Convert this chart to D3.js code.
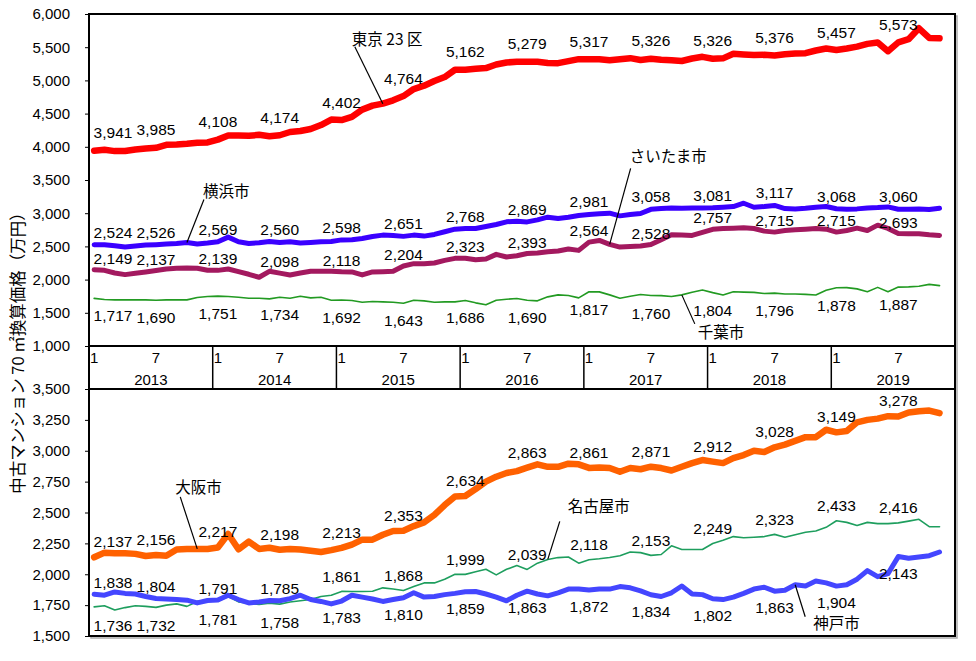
<!DOCTYPE html>
<html><head><meta charset="utf-8">
<script src="https://cdn.jsdelivr.net/npm/d3@7/dist/d3.min.js"></script>
<style>
body{margin:0;background:#fff}
svg{display:block}
</style>
</head><body>
<svg id="chart" width="976" height="661"></svg>
<script>
// ---------------- DATA ----------------
const years = ["2013","2014","2015","2016","2017","2018","2019"];
const monthTickLabels = ["1","7"];
const monthSlots = 84;               // Jan 2013 .. Dec 2019
const labelMonths = [0,6,12,18,24,30,36,42,48,54,60,66,72,78];
const topTicks = [1000,1500,2000,2500,3000,3500,4000,4500,5000,5500,6000];
const bottomTicks = [1500,1750,2000,2250,2500,2750,3000,3250,3500];
const yTitle = "中古マンション 70 ㎡換算価格（万円）";

const tokyo = [3941,3955,3935,3938,3960,3975,3985,4030,4035,4045,4060,4065,
  4108,4170,4170,4165,4180,4160,4174,4223,4238,4268,4328,4410,
  4402,4450,4560,4620,4650,4700,4764,4870,4920,4990,5050,5160,
  5162,5175,5185,5240,5270,5280,5279,5280,5262,5260,5290,5320,
  5317,5320,5305,5320,5335,5307,5326,5310,5305,5292,5330,5355,
  5326,5332,5400,5390,5382,5385,5376,5395,5405,5410,5450,5480,
  5457,5480,5508,5550,5571,5440,5573,5620,5785,5640,5634];
const yokohama = [2524,2525,2510,2490,2505,2520,2526,2535,2545,2560,2535,2550,
  2569,2640,2570,2545,2555,2575,2560,2570,2550,2560,2570,2575,
  2598,2600,2620,2650,2670,2665,2651,2670,2655,2680,2720,2760,
  2768,2770,2800,2830,2870,2880,2869,2900,2940,2920,2940,2965,
  2981,2990,3000,2960,2980,2995,3058,3070,3080,3075,3078,3080,
  3081,3090,3100,3150,3090,3100,3117,3070,3065,3075,3090,3100,
  3068,3060,3065,3080,3085,3095,3060,3060,3065,3055,3075];
const saitama = [2149,2140,2100,2075,2095,2115,2137,2160,2170,2175,2170,2140,
  2139,2160,2120,2080,2035,2125,2098,2070,2100,2125,2125,2125,
  2118,2115,2070,2115,2120,2125,2204,2240,2240,2250,2290,2320,
  2323,2300,2310,2380,2340,2360,2393,2400,2420,2430,2460,2440,
  2564,2590,2530,2490,2500,2505,2528,2600,2675,2670,2665,2710,
  2757,2770,2775,2780,2770,2730,2715,2740,2750,2760,2770,2760,
  2715,2740,2775,2740,2820,2770,2693,2690,2690,2675,2665];
const chiba = [1717,1700,1695,1695,1695,1695,1690,1695,1695,1695,1730,1745,
  1751,1745,1735,1720,1720,1710,1734,1720,1750,1725,1735,1690,
  1692,1685,1660,1670,1665,1660,1643,1690,1680,1660,1665,1665,
  1686,1650,1620,1690,1705,1715,1690,1680,1740,1770,1760,1725,
  1817,1815,1770,1720,1750,1775,1760,1758,1745,1770,1810,1844,
  1804,1768,1818,1812,1808,1790,1796,1783,1783,1778,1768,1840,
  1878,1879,1860,1818,1883,1818,1887,1890,1900,1928,1909];
const osaka = [2137,2175,2170,2170,2165,2148,2156,2150,2200,2205,2205,2205,
  2217,2326,2202,2264,2205,2215,2198,2205,2200,2190,2180,2195,
  2213,2240,2280,2280,2320,2350,2353,2390,2420,2480,2560,2630,
  2634,2690,2750,2790,2820,2835,2863,2890,2870,2870,2895,2890,
  2861,2865,2860,2830,2860,2850,2871,2860,2840,2870,2900,2925,
  2912,2900,2940,2965,3000,2990,3028,3050,3080,3110,3110,3170,
  3149,3160,3230,3250,3260,3280,3278,3310,3320,3325,3305];
const nagoya = [1736,1745,1710,1730,1745,1740,1732,1750,1760,1740,1780,1785,
  1781,1820,1776,1765,1755,1765,1758,1775,1785,1795,1820,1830,
  1861,1860,1860,1862,1890,1880,1868,1900,1930,1930,1960,2000,
  1999,2020,2040,1995,2040,2070,2039,2090,2120,2135,2140,2090,
  2118,2125,2135,2150,2180,2175,2153,2160,2230,2200,2200,2200,
  2249,2275,2305,2295,2300,2305,2323,2300,2320,2340,2350,2380,
  2433,2420,2395,2420,2410,2410,2416,2430,2445,2385,2385];
const kobe = [1838,1830,1857,1845,1840,1820,1804,1800,1795,1790,1768,1787,
  1791,1830,1795,1768,1775,1787,1785,1803,1830,1795,1780,1760,
  1783,1830,1815,1800,1780,1795,1810,1850,1815,1820,1835,1845,
  1859,1860,1840,1815,1785,1830,1863,1840,1825,1850,1880,1880,
  1872,1880,1880,1900,1890,1865,1834,1820,1850,1905,1840,1835,
  1802,1795,1815,1845,1880,1895,1863,1870,1915,1905,1945,1930,
  1904,1915,1960,2030,1980,2005,2143,2130,2140,2150,2180];

// label side per label month ("a" above, "b" below)
const nagoyaSides = ["b","b","b","b","a","a","a","a","a","a","a","a","a","a"];
const kobeSides   = ["a","a","a","a","b","b","b","b","b","b","b","b","b","b"];

// ---------------- LAYOUT / STYLE ----------------
const L = 89, R = 955;
const topPanel = {y0: 14, y1: 346};
const bottomPanel = {y0: 389, y1: 636};
const numFont = "'Liberation Sans', Arial, sans-serif";
const jpFont = "'Noto Sans CJK JP', 'Noto Sans', sans-serif";

const svg = d3.select("#chart");
const x = d3.scaleBand().domain(d3.range(monthSlots)).range([L, R]).padding(0);
const cx = i => x(i) + x.bandwidth() / 2;
const yTop = d3.scaleLinear().domain([1000, 6000]).range([topPanel.y1, topPanel.y0]);
const yBot = d3.scaleLinear().domain([1500, 3500]).range([bottomPanel.y1, bottomPanel.y0]);
const fmt = d3.format(",");

const series = [
  {key:"tokyo", values: tokyo, y: yTop, color:"#FF0000", w:6.5, above:12.5, below:22},
  {key:"yokohama", values: yokohama, y: yTop, color:"#3A00FF", w:5, above:7, below:22},
  {key:"saitama", values: saitama, y: yTop, color:"#A3195F", w:5, above:6, below:22},
  {key:"chiba", values: chiba, y: yTop, color:"#229A22", w:1.6, above:8, below:23, sides: labelMonths.map(()=>"b")},
  {key:"osaka", values: osaka, y: yBot, color:"#FF6100", w:6.5, above:10, below:22},
  {key:"nagoya", values: nagoya, y: yBot, color:"#1E9E5E", w:1.6, above:9.5, below:24, sides: nagoyaSides},
  {key:"kobe", values: kobe, y: yBot, color:"#4446FF", w:5, above:6.5, below:22, sides: kobeSides}
];

const callouts = [
  {key:"tokyo", text:"東京 23 区", month:28, lx:-28, ly:-57, tx:-31, ty:-59},
  {key:"yokohama", text:"横浜市", month:9, lx:17, ly:-43, tx:16, ty:-45},
  {key:"saitama", text:"さいたま市", month:50, lx:21, ly:-76, tx:20, ty:-82},
  {key:"chiba", text:"千葉市", month:57, lx:13, ly:29, tx:16, ty:43},
  {key:"osaka", text:"大阪市", month:10, lx:-17, ly:-52, tx:-22, ty:-56},
  {key:"nagoya", text:"名古屋市", month:44, lx:12, ly:-38, tx:20, ty:-47},
  {key:"kobe", text:"神戸市", month:68, lx:10, ly:32, tx:18, ty:44}
];

// ---------------- AXES ----------------
function yAxis(scale, ticks) {
  const g = svg.append("g").attr("transform", `translate(${L},0)`)
    .call(d3.axisLeft(scale).tickValues(ticks).tickFormat(fmt).tickSize(4).tickPadding(15));
  g.select(".domain").remove();
  g.selectAll(".tick line").attr("stroke", "#000");
  g.selectAll("text").attr("font-family", numFont).attr("font-size", 15).attr("fill", "#000");
}
yAxis(yTop, topTicks);
yAxis(yBot, bottomTicks);

// shadows
svg.append("rect").attr("x", L + 2).attr("y", topPanel.y0 + 2).attr("width", R - L).attr("height", bottomPanel.y1 - topPanel.y0)
  .attr("fill", "none").attr("stroke", "#aaa").attr("stroke-width", 1.5);
// panel frames
[topPanel, bottomPanel].forEach(p => {
  svg.append("rect").attr("x", L).attr("y", p.y0).attr("width", R - L).attr("height", p.y1 - p.y0)
    .attr("fill", "#fff").attr("stroke", "#000").attr("stroke-width", 2);
});
// month axis band
svg.append("rect").attr("x", L).attr("y", topPanel.y1).attr("width", R - L).attr("height", bottomPanel.y0 - topPanel.y1)
  .attr("fill", "#fff").attr("stroke", "#000").attr("stroke-width", 2);
const ax = svg.append("g");
years.forEach((yr, k) => {
  if (k > 0) ax.append("line").attr("x1", x(12 * k)).attr("x2", x(12 * k))
    .attr("y1", topPanel.y1).attr("y2", bottomPanel.y0).attr("stroke", "#000").attr("stroke-width", 1.5);
  monthTickLabels.forEach(m => {
    const i = 12 * k + (+m - 1);
    ax.append("text").attr("x", cx(i)).attr("y", topPanel.y1 + 17).attr("text-anchor", "middle")
      .attr("font-family", numFont).attr("font-size", 15).text(m);
  });
  ax.append("text").attr("x", x(12 * k) + 6 * x.bandwidth()).attr("y", topPanel.y1 + 39)
    .attr("text-anchor", "middle").attr("font-family", numFont).attr("font-size", 15).text(yr);
});

// y title
svg.append("text").attr("transform", "translate(24,349) rotate(-90)").attr("text-anchor", "middle")
  .attr("font-family", jpFont).attr("font-size", 16.5).attr("fill", "#000").text(yTitle);

// ---------------- LINES ----------------
series.forEach(s => {
  const line = d3.line().x((d, i) => cx(i)).y(d => s.y(d));
  svg.append("path").datum(s.values).attr("d", line).attr("fill", "none")
    .attr("stroke", s.color).attr("stroke-width", s.w)
    .attr("stroke-linejoin", "round").attr("stroke-linecap", "round");
});

// ---------------- DATA LABELS ----------------
series.forEach(s => {
  labelMonths.forEach((m, j) => {
    const v = s.values[m];
    const side = s.sides ? s.sides[j] : "a";
    const px = Math.max(cx(m), L + 24);
    const py = s.y(v) + (side === "a" ? -s.above : s.below);
    svg.append("text").attr("x", px).attr("y", py).attr("text-anchor", "middle")
      .attr("font-family", numFont).attr("font-size", 15.5).attr("fill", "#000").text(fmt(v));
  });
});

// ---------------- CALLOUTS ----------------
callouts.forEach(c => {
  const s = series.find(d => d.key === c.key);
  const px = cx(c.month), py = s.y(s.values[c.month]);
  svg.append("line").attr("x1", px).attr("y1", py).attr("x2", px + c.lx).attr("y2", py + c.ly)
    .attr("stroke", "#000").attr("stroke-width", 1.2);
  svg.append("text").attr("x", px + c.tx).attr("y", py + c.ty)
    .attr("font-family", jpFont).attr("font-size", 15.5).attr("fill", "#000").text(c.text);
});
</script>
</body></html>
